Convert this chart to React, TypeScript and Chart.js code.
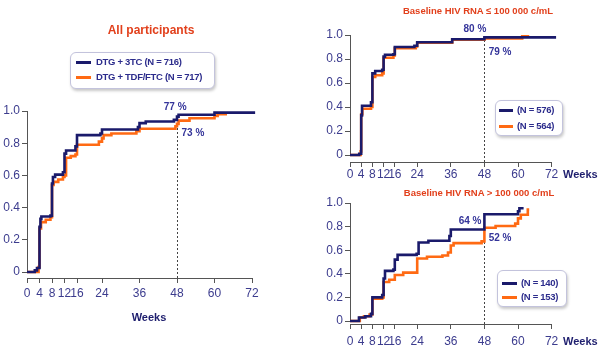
import React, { useEffect, useRef } from "react";
import { Chart, registerables } from "chart.js";
Chart.register(...registerables);

// ---------- data ----------
const xTickWeeks = [0, 4, 8, 12, 16, 24, 36, 48, 60, 72];
const yTickValues = [0, 0.2, 0.4, 0.6, 0.8, 1.0];

const seriesNames = ["DTG + 3TC", "DTG + TDF/FTC"];

// All participants
const allWeeks3TC = [0, 2.5, 3.2, 4, 4.3, 4.6, 7.5, 8, 8.3, 9, 11.5, 12, 12.5, 15.5, 16, 23.5, 24, 35.5, 36, 38, 47, 48, 48.5, 60, 73];
const allValues3TC = [0, 0.01, 0.025, 0.28, 0.33, 0.345, 0.35, 0.55, 0.59, 0.605, 0.62, 0.735, 0.755, 0.78, 0.85, 0.86, 0.885, 0.9, 0.925, 0.935, 0.945, 0.965, 0.977, 0.99, 0.99];
const allWeeksTDF = [0, 3.7, 4, 4.5, 6, 7.5, 8, 8.5, 10, 11.5, 12, 12.5, 14, 15.5, 16, 23, 24, 24.5, 27, 35, 36, 47.5, 48, 48.5, 52, 60, 61, 64];
const allValuesTDF = [0, 0.03, 0.27, 0.31, 0.325, 0.34, 0.54, 0.56, 0.575, 0.59, 0.6, 0.71, 0.72, 0.73, 0.79, 0.81, 0.83, 0.85, 0.86, 0.875, 0.89, 0.905, 0.92, 0.94, 0.955, 0.97, 0.98, 0.98];

// Baseline HIV RNA <= 100 000
const lowWeeks3TC = [0, 3.3, 4, 4.3, 7.5, 8, 9, 11.5, 12, 12.5, 15.5, 16, 23, 24, 36.5, 48, 73.6];
const lowValues3TC = [0, 0.01, 0.33, 0.41, 0.44, 0.68, 0.7, 0.71, 0.82, 0.835, 0.84, 0.9, 0.91, 0.94, 0.965, 0.98, 0.98];
const lowWeeksTDF = [0, 3.8, 4, 4.4, 7.5, 8, 9, 11.5, 12, 15.5, 16, 23.5, 24, 36.5, 48, 61.5, 64];
const lowValuesTDF = [0, 0.03, 0.34, 0.385, 0.4, 0.65, 0.665, 0.68, 0.81, 0.83, 0.89, 0.905, 0.935, 0.96, 0.972, 0.99, 0.99];

// Baseline HIV RNA > 100 000
const highWeeks3TC = [0, 3.2, 5.5, 7.5, 8, 11.5, 12, 12.5, 15.5, 16, 17, 23.8, 24.5, 28, 35.5, 36, 48, 60, 60.5, 62];
const highValues3TC = [0, 0.03, 0.04, 0.06, 0.2, 0.22, 0.36, 0.425, 0.435, 0.52, 0.56, 0.57, 0.665, 0.68, 0.72, 0.775, 0.905, 0.93, 0.955, 0.955];
const highWeeksTDF = [0, 3.5, 5, 7, 8, 11.5, 12, 14, 16, 19, 24, 27.5, 33, 35, 36, 37, 47, 48, 52, 59, 60, 61, 63.5, 64];
const highValuesTDF = [0, 0.03, 0.04, 0.055, 0.19, 0.2, 0.33, 0.35, 0.39, 0.41, 0.53, 0.545, 0.555, 0.58, 0.64, 0.66, 0.675, 0.79, 0.805, 0.825, 0.87, 0.9, 0.945, 0.945];

const titleAll = "All participants";
const titleLow = "Baseline HIV RNA \u2264 100 000 c/mL";
const titleHigh = "Baseline HIV RNA > 100 000 c/mL";

const legendAll = ["DTG + 3TC (N = 716)", "DTG + TDF/FTC (N = 717)"];
const legendLow = ["(N = 576)", "(N = 564)"];
const legendHigh = ["(N = 140)", "(N = 153)"];

const markWeek = 48;
const annotAllLabels = ["77 %", "73 %"];
const annotAllWeeks = [47.4, 53.1];
const annotAllValues = [1.025, 0.863];
const annotLowLabels = ["80 %", "79 %"];
const annotLowWeeks = [44.6, 53.6];
const annotLowValues = [1.05, 0.858];
const annotHighLabels = ["64 %", "52 %"];
const annotHighWeeks = [42.9, 53.6];
const annotHighValues = [0.847, 0.703];
const dashTopAll = 0.92;
const dashTopLow = 0.972;
const dashTopHigh = 0.79;

// ---------- styles ----------
const NAVY = "#1a1a6b";
const ORANGE = "#ff6a13";
const TICK_COLOR = "#3c3c8e";
const LABEL_COLOR = "#34349a";
const RED = "#e2401c";
const AXIS = "#555";
const FONT = "'Liberation Sans', Arial, sans-serif";

type PanelCfg = {
  left: number; top: number; width: number; height: number;
  areaLeft: number; areaTop: number; areaBottom: number; padRight: number;
  yMin: number; xMax: number; tickPad: number;
  w3: number[]; v3: number[]; wT: number[]; vT: number[];
  labels: string[]; labelWeeks: number[]; labelValues: number[];
  dashTop: number;
};

const toPts = (w: number[], v: number[]) => w.map((x, i) => ({ x, y: v[i] }));

function Panel({ cfg }: { cfg: PanelCfg }) {
  const ref = useRef<HTMLCanvasElement>(null);
  useEffect(() => {
    if (!ref.current) return;
    const decor = {
      id: "kmDecor",
      beforeDatasetsDraw(chart: any) {
        const { ctx, chartArea } = chart;
        const xs = chart.scales.x, ys = chart.scales.y;
        ctx.save();
        ctx.strokeStyle = AXIS;
        ctx.lineWidth = 1;
        ctx.beginPath();
        const ax = Math.round(chartArea.left) + 0.5;
        ctx.moveTo(ax, ys.getPixelForValue(1));
        ctx.lineTo(ax, ys.getPixelForValue(0));
        const ay = Math.round(chartArea.bottom) + 0.5;
        ctx.moveTo(xs.getPixelForValue(0), ay);
        ctx.lineTo(xs.getPixelForValue(72), ay);
        ctx.stroke();
        ctx.setLineDash([2, 2]);
        ctx.strokeStyle = "#444";
        ctx.beginPath();
        const dx = Math.round(xs.getPixelForValue(markWeek)) + 0.5;
        ctx.moveTo(dx, chartArea.bottom);
        ctx.lineTo(dx, ys.getPixelForValue(cfg.dashTop));
        ctx.stroke();
        ctx.restore();
      },
      afterDatasetsDraw(chart: any) {
        const { ctx } = chart;
        const xs = chart.scales.x, ys = chart.scales.y;
        ctx.save();
        ctx.fillStyle = LABEL_COLOR;
        ctx.font = `bold 10px ${FONT}`;
        ctx.textAlign = "center";
        ctx.textBaseline = "middle";
        cfg.labels.forEach((t, i) => {
          ctx.fillText(t, xs.getPixelForValue(cfg.labelWeeks[i]), ys.getPixelForValue(cfg.labelValues[i]));
        });
        ctx.restore();
      },
    };
    const tickFont = { family: FONT, size: 12 };
    const chart = new Chart(ref.current, {
      type: "line",
      data: {
        datasets: [
          { label: seriesNames[0], data: toPts(cfg.w3, cfg.v3), borderColor: NAVY, borderWidth: 2.6, pointRadius: 0, stepped: "before", fill: false, clip: false, order: 0 },
          { label: seriesNames[1], data: toPts(cfg.wT, cfg.vT), borderColor: ORANGE, borderWidth: 2.6, pointRadius: 0, stepped: "before", fill: false, clip: false, order: 1 },
        ],
      },
      options: {
        responsive: false,
        animation: false,
        devicePixelRatio: 1,
        layout: { padding: { left: 0, top: cfg.areaTop, right: cfg.padRight, bottom: 0 } },
        plugins: { legend: { display: false }, tooltip: { enabled: false }, title: { display: false } },
        scales: {
          x: {
            type: "linear", min: 0, max: cfg.xMax,
            afterBuildTicks: (s: any) => { s.ticks = xTickWeeks.map((v) => ({ value: v })); },
            afterFit: (s: any) => { s.height = cfg.height - cfg.areaBottom; },
            ticks: { autoSkip: false, maxRotation: 0, padding: cfg.tickPad, color: TICK_COLOR, font: tickFont, callback: (v: any) => String(v) },
            grid: { drawOnChartArea: false, drawTicks: true, tickLength: 5, color: AXIS },
            border: { display: false },
          },
          y: {
            type: "linear", min: cfg.yMin, max: 1.0,
            afterBuildTicks: (s: any) => { s.ticks = yTickValues.map((v) => ({ value: v })); },
            afterFit: (s: any) => { s.width = cfg.areaLeft; },
            ticks: { padding: 2, color: TICK_COLOR, font: tickFont, callback: (v: any) => (v === 0 ? "0" : Number(v).toFixed(1)) },
            grid: { drawOnChartArea: false, drawTicks: true, tickLength: 5, color: AXIS },
            border: { display: false },
          },
        },
      } as any,
      plugins: [decor],
    });
    return () => chart.destroy();
  }, [cfg]);
  return (
    <canvas
      ref={ref}
      width={cfg.width}
      height={cfg.height}
      style={{ position: "absolute", left: cfg.left, top: cfg.top, width: cfg.width, height: cfg.height }}
    />
  );
}

const panelAll: PanelCfg = {
  left: 0, top: 0, width: 300, height: 352,
  areaLeft: 27, areaTop: 111, areaBottom: 278, padRight: 300 - (27 + 74 * 3.125),
  yMin: -6 / 161, xMax: 74, tickPad: 3,
  w3: allWeeks3TC, v3: allValues3TC, wT: allWeeksTDF, vT: allValuesTDF,
  labels: annotAllLabels, labelWeeks: annotAllWeeks, labelValues: annotAllValues, dashTop: dashTopAll,
};
const panelLow: PanelCfg = {
  left: 300, top: 0, width: 304, height: 180,
  areaLeft: 50, areaTop: 35, areaBottom: 162, padRight: 304 - (50 + 74 * 2.8),
  yMin: -7 / 120, xMax: 74, tickPad: 0,
  w3: lowWeeks3TC, v3: lowValues3TC, wT: lowWeeksTDF, vT: lowValuesTDF,
  labels: annotLowLabels, labelWeeks: annotLowWeeks, labelValues: annotLowValues, dashTop: dashTopLow,
};
const panelHigh: PanelCfg = {
  left: 300, top: 180, width: 304, height: 172,
  areaLeft: 50, areaTop: 23, areaBottom: 144, padRight: 304 - (50 + 74 * 2.8),
  yMin: -3 / 118, xMax: 74, tickPad: 5,
  w3: highWeeks3TC, v3: highValues3TC, wT: highWeeksTDF, vT: highValuesTDF,
  labels: annotHighLabels, labelWeeks: annotHighWeeks, labelValues: annotHighValues, dashTop: dashTopHigh,
};

function Text({ x, y, children, size, color, center = true, spacing = 0 }: any) {
  return (
    <div
      style={{
        position: "absolute", left: x, top: y, transform: center ? "translate(-50%, -50%)" : "translate(0, -50%)",
        whiteSpace: "nowrap", fontFamily: FONT, fontWeight: "bold", fontSize: size, color, lineHeight: 1,
        letterSpacing: spacing,
      }}
    >
      {children}
    </div>
  );
}

function Legend({ box, rows, lineX, lineW, textX, items }: any) {
  return (
    <>
      <div
        style={{
          position: "absolute", left: box[0], top: box[1], width: box[2], height: box[3], boxSizing: "border-box",
          border: "1px solid #c3c3dc", borderRadius: 6, background: "#fff", boxShadow: "1px 2px 3px rgba(0,0,0,0.22)",
        }}
      />
      {items.map((t: string, i: number) => (
        <React.Fragment key={i}>
          <div style={{ position: "absolute", left: lineX, top: rows[i] - 1.5, width: lineW, height: 3, background: i === 0 ? NAVY : ORANGE }} />
          <Text x={textX} y={rows[i]} size={9.5} spacing={-0.3} color="#2c2c8c" center={false}>{t}</Text>
        </React.Fragment>
      ))}
    </>
  );
}

export default function App() {
  return (
    <div style={{ position: "absolute", left: 0, top: 0, width: 604, height: 352, background: "#fff", overflow: "hidden" }}>
      <Panel cfg={panelAll} />
      <Panel cfg={panelLow} />
      <Panel cfg={panelHigh} />
      <Text x={151} y={30} size={12} color={RED}>{titleAll}</Text>
      <Text x={478} y={11} size={9.5} color={RED}>{titleLow}</Text>
      <Text x={479} y={193} size={9.5} color={RED}>{titleHigh}</Text>
      <Text x={149} y={317} size={11} color="#1e1e6e">Weeks</Text>
      <Text x={563} y={174} size={11} color="#1e1e6e" center={false}>Weeks</Text>
      <Text x={563} y={341} size={11} color="#1e1e6e" center={false}>Weeks</Text>
      <Legend box={[70, 52, 145, 37]} rows={[62, 77]} lineX={76} lineW={15} textX={96} items={legendAll} />
      <Legend box={[495, 100, 68, 36]} rows={[110, 126]} lineX={499} lineW={14} textX={517} items={legendLow} />
      <Legend box={[497, 270, 70, 37]} rows={[283, 297]} lineX={502} lineW={15} textX={521} items={legendHigh} />
    </div>
  );
}
